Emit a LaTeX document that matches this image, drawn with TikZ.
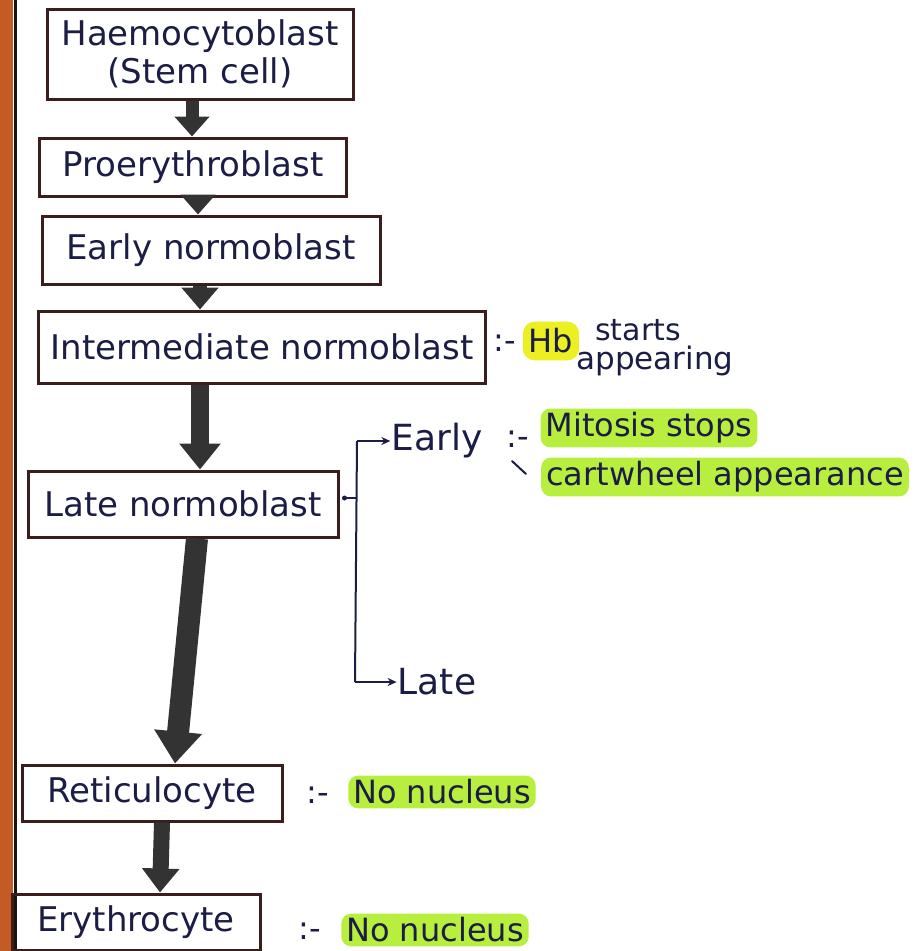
\documentclass[tikz,border=0pt]{standalone}
\usepackage{fontspec}
\setmainfont{DejaVu Sans}
\usetikzlibrary{arrows.meta,calc}
\definecolor{ink}{HTML}{1B1D45}
\definecolor{boxline}{HTML}{3A1E1E}
\definecolor{arr}{HTML}{333333}
\definecolor{hlgreen}{HTML}{B8EE3E}
\definecolor{hlyellow}{HTML}{ECF022}
\definecolor{strip}{HTML}{C45A26}
\begin{document}
\begin{tikzpicture}[x=1pt,y=-1pt,
  stage/.style={draw=boxline, line width=3pt, text=ink, font=\fontsize{34}{38}\selectfont, inner sep=0pt, align=center},
  note/.style={text=ink, font=\fontsize{32}{34}\selectfont, inner sep=1pt},
  hl/.style={note, fill=hlgreen, rounded corners=10pt, inner xsep=5pt, inner ysep=4pt},
  hly/.style={note, fill=hlyellow, rounded corners=12pt, inner xsep=6pt, inner ysep=7pt},
  flow/.style n args={3}{line width=#1, draw=arr, -{Triangle[width=#2, length=#3]}},
  inkline/.style={draw=ink, line width=2pt}
]
\useasboundingbox (0,0) rectangle (915,951);
\fill[white] (0,0) rectangle (915,951);
\fill[strip] (0,0) rectangle (13,951);
\draw[line width=3pt, black!85!brown] (15,0) -- (15,951);

% stages
\node[stage, minimum width=306pt, minimum height=90pt] (hae) at (200,54) {Haemocytoblast\\(Stem cell)};
\node[stage, minimum width=307pt, minimum height=58pt] (pro) at (193,167) {Proerythroblast};
\node[stage, minimum width=338pt, minimum height=68pt] (ear) at (211,250) {Early normoblast};
\node[stage, minimum width=447pt, minimum height=72pt] (int) at (262,347) {Intermediate normoblast};
\node[stage, minimum width=310pt, minimum height=66pt] (lat) at (183,504) {Late normoblast};
\node[stage, minimum width=260pt, minimum height=56pt] (ret) at (152,793) {Reticulocyte};
\node[stage, minimum width=248pt, minimum height=56pt] (ery) at (136,922) {Erythrocyte};

% flow arrows
\draw[flow={13pt}{34pt}{20pt}] ($(hae.south)+(-8,0)$) -- ($(pro.north)+(-1,0)$);
\draw[flow={13pt}{34pt}{20pt}] ($(pro.south)+(5,0)$) -- ($(ear.north)+(-13,0)$);
\draw[flow={14pt}{36pt}{22pt}] ($(ear.south)+(-11,0)$) -- ($(int.north)+(-62,0)$);
\draw[flow={18pt}{40pt}{26pt}] ($(int.south)+(-62,0)$) -- ($(lat.north)+(17,0)$);
\draw[flow={22pt}{46pt}{32pt}] ($(lat.south)+(14,0)$) -- ($(ret.north)+(23,0)$);
\draw[flow={16pt}{36pt}{24pt}] ($(ret.south)+(10,0)$) -- ($(ery.north)+(24,0)$);

% Intermediate note
\node[note] (c1) at (505,343) {:-};
\node[hly] (hb) at (551,341) {Hb};
\node[note, font=\fontsize{30}{32}\selectfont] (st) at (638,330) {starts};
\node[note, font=\fontsize{31}{33}\selectfont] (ap) at (655,361) {appearing};

% Late normoblast branches
\node[note, font=\fontsize{36}{38}\selectfont] (eb) at (437,441) {Early};
\node[note, font=\fontsize{36}{38}\selectfont] (lb) at (437,682) {Late};
\coordinate (bt) at (357,441);
\coordinate (bb) at (355,682);
\fill[ink] ($(lat.east)+(5,-6)$) circle (2.5pt);
\draw[inkline] ($(lat.east)+(5,-6)$) -- (bt |- {$(lat.east)+(5,-6)$});
\draw[inkline] (bt) -- (bb);
\draw[inkline, -{Stealth[length=9pt,width=8pt]}] (bt) -- (eb.west);
\draw[inkline, -{Stealth[length=9pt,width=8pt]}] (bb) -- (lb.west);

\node[note] (c2) at (518,439) {:-};
\node[hl] (mit) at (649,428) {Mitosis stops};
\coordinate (s1) at (512,461);
\coordinate (s2) at (526,474);
\draw[inkline, line cap=round] (s1) -- (s2);
\node[hl] (cart) at (725,477) {cartwheel appearance};

% No nucleus notes
\node[note] (c3) at (318,795) {:-};
\node[hl] (nn1) at (442,792) {No nucleus};
\node[note] (c4) at (310,931) {:-};
\node[hl] (nn2) at (435,930) {No nucleus};
\end{tikzpicture}
\end{document}
